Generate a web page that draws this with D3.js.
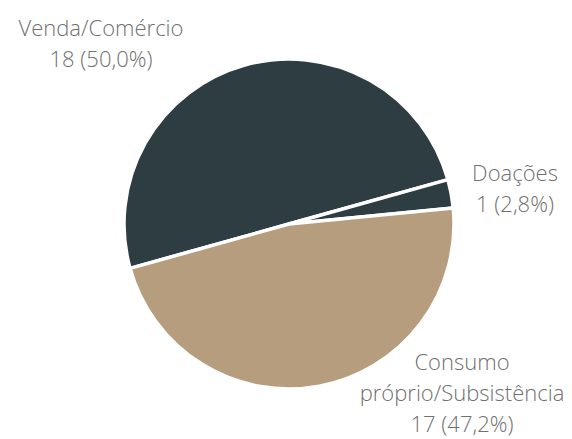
<!DOCTYPE html>
<html><head><meta charset="utf-8">
<script src="https://cdn.jsdelivr.net/npm/d3@7"></script>
<style>body{margin:0;background:#fff}svg{display:block}</style>
</head><body>
<script>
const categories = ["Venda/Comércio", "Doações", "Consumo próprio/Subsistência"];
const values = [18, 1, 17];
const percents = ["50,0%", "2,8%", "47,2%"];
const colors = ["#2e3d42", "#2e3d42", "#b59d7d"];

const W = 572, H = 439;
const cx = 289, cy = 224, R = 165;
const svg = d3.select("body").append("svg").attr("width", W).attr("height", H);

const start = -105.6 * Math.PI / 180;
const pie = d3.pie().sort(null).value(d => d).startAngle(start).endAngle(start + 2 * Math.PI);
const arcs = pie(values);
const arc = d3.arc().innerRadius(0).outerRadius(R);

const g = svg.append("g").attr("transform", `translate(${cx},${cy})`);
g.selectAll("path").data(arcs).join("path")
  .attr("d", arc)
  .attr("fill", (d, i) => colors[i])
  .attr("stroke", "#fff")
  .attr("stroke-width", 3.5)
  .attr("stroke-linejoin", "round");

const labelPos = [
  {x: 101, y: 36, lines: ["Venda/Comércio"]},
  {x: 515, y: 181, lines: ["Doações"]},
  {x: 462, y: 370, lines: ["Consumo", "próprio/Subsistência"]}
];
const lh = 31;
labelPos.forEach((p, i) => {
  const lines = p.lines.concat([`${values[i]} (${percents[i]})`]);
  const t = svg.append("text")
    .attr("x", p.x).attr("y", p.y)
    .attr("text-anchor", "middle")
    .attr("font-family", "Open Sans, sans-serif")
    .attr("font-weight", 300)
    .attr("font-size", 22)
    .attr("fill", "#707070");
  lines.forEach((l, j) => {
    t.append("tspan").attr("x", p.x).attr("dy", j === 0 ? 0 : lh).text(l);
  });
});
</script>
</body></html>
